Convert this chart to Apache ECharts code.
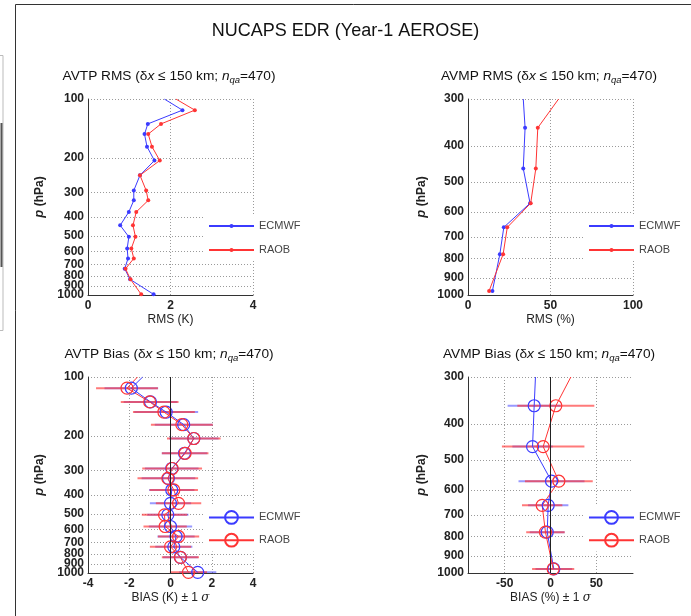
<!DOCTYPE html>
<html><head><meta charset="utf-8">
<script src="https://cdn.jsdelivr.net/npm/echarts@6/dist/echarts.min.js"></script>
<style>html,body{margin:0;padding:0;background:#fff}#c{width:691px;height:616px}</style>
</head><body><div id="c"></div>
<script>
// ---------- DATA ----------
// Temperature levels (hPa)
const pT = [114,134,151,175,206,245,293,329,377,441,505,579,651,735,832,992];
const pTtop = 100;
// AVTP RMS (K)
const rmsT_ecmwf_top = 1.85;
const rmsT_ecmwf = [2.29,1.45,1.37,1.43,1.61,1.26,1.11,1.11,0.99,0.78,0.99,0.95,0.97,0.89,1.02,1.59];
const rmsT_raob_top = 2.13;
const rmsT_raob  = [2.59,1.77,1.46,1.55,1.74,1.26,1.41,1.46,1.17,1.09,1.15,1.05,1.11,0.91,1.03,1.29];
// AVTP Bias (K) and 1-sigma
const biasT_ecmwf_top = -1.35;
const biasT_ecmwf = [-1.90,-0.97,-0.21,0.64,1.13,0.68,0.06,-0.10,0.06,0.00,-0.13,0.00,0.27,0.16,0.48,1.32];
const sigT_ecmwf  = [1.30,1.30,1.55,1.40,1.20,1.10,1.30,1.30,1.10,1.00,1.00,1.05,0.90,0.90,0.85,0.90];
const biasT_raob_top = -1.6;
const biasT_raob  = [-2.11,-1.01,-0.32,0.55,1.13,0.71,0.08,-0.13,0.16,0.39,-0.29,-0.26,0.39,0.00,0.48,0.87];
const sigT_raob   = [1.50,1.40,1.50,1.50,1.30,1.13,1.45,1.47,1.17,1.10,1.10,1.05,1.00,1.00,0.90,0.90];
// Water vapour levels (hPa)
const pQ = [358,460,569,660,778,975];
const pQtop = 300;
// AVMP RMS (%)
const rmsQ_ecmwf_top = 33.5;
const rmsQ_ecmwf = [34.6,33.5,37.6,21.7,19.3,14.8];
const rmsQ_raob_top = 54.9;
const rmsQ_raob  = [42.3,41.1,38.0,23.8,21.3,12.8];
// AVMP Bias (%) and 1-sigma
const biasQ_ecmwf_top = -16.4;
const biasQ_ecmwf = [-17.8,-19.6,1.1,-2.5,-3.6,3.6];
const sigQ_ecmwf  = [29,22,36,22,19,20];
const biasQ_raob_top = 22.2;
const biasQ_raob  = [5.8,-8.0,9.1,-9.1,-5.5,2.9];
const sigQ_raob   = [42,45,37,22,21,23];
// Tick labels
const ticksT = [100,200,300,400,500,600,700,800,900,1000];
const ticksT_extra = [900];   // label drawn on a companion axis (crowded)
const ticksQ = [300,400,500,600,700,800,900,1000];
const xTicksQbias = [-50,0,50];

// ---------- BUILD ----------
const FONT = "'Liberation Sans', Arial, Helvetica, sans-serif";
const BLUE = '#3b3bff', RED = '#ff3434';
const lg = v => Math.log10(v);

const grids = [
  {left:88, top:99, width:165, height:196},
  {left:468, top:99, width:165, height:196},
  {left:88, top:377, width:165, height:196},
  {left:468, top:377, width:165, height:196}
];
const gridLine = {show:true, lineStyle:{color:'#9a9a9a', type:[1,2], width:1}};
const axisLine = {show:true, onZero:false, lineStyle:{color:'#333', width:1}};
const tickLab = {color:'#222', fontFamily:FONT, fontWeight:'bold', fontSize:12, showMinLabel:true, showMaxLabel:true, hideOverlap:false};

function xAx(i, min, max, interval, name, custom) {
  const a = {type:'value', gridIndex:i, min, max, position:'bottom',
    axisLine, axisTick:{show:false}, splitLine:gridLine,
    axisLabel:Object.assign({margin:5}, tickLab),
    name, nameLocation:'middle', nameGap:19,
    nameTextStyle:{color:'#222', fontFamily:FONT, fontSize:12,
      rich:{t:{color:'#222', fontFamily:FONT, fontSize:12}, s:{color:'#222', fontFamily:'DejaVu Serif', fontStyle:'italic', fontSize:12}}}};
  if (custom) {
    a.axisTick = {show:false, customValues:custom};
    a.axisLabel.customValues = custom;
  } else a.interval = interval;
  return a;
}
const fmtP = v => String(Math.round(Math.pow(10, v)));
function yAx(i, pmin, ticks, gap, skip) {
  const cv = ticks.map(lg);
  const lv = ticks.filter(t => !(skip || []).includes(t)).map(lg);
  return {type:'value', gridIndex:i, min:lg(pmin), max:3, inverse:true, position:'left', offset:0,
    axisLine, axisTick:{show:false, customValues:cv}, splitLine:gridLine,
    axisLabel:Object.assign({margin:4, customValues:lv, formatter:fmtP}, tickLab),
    name:'{i|p} {b|(hPa)}', nameLocation:'middle', nameRotate:90, nameGap:gap,
    nameTextStyle:{rich:{i:{fontFamily:FONT, fontStyle:'italic', fontWeight:'bold', fontSize:13, color:'#222'},
                         b:{fontFamily:FONT, fontWeight:'bold', fontSize:12, color:'#222'}}}};
}
function yAxExtra(i, pmin, ticks) {
  const cv = ticks.map(lg);
  return {type:'value', gridIndex:i, min:lg(pmin), max:3, inverse:true, position:'left', offset:0,
    axisLine:{show:false}, axisTick:{show:false, customValues:cv}, splitLine:{show:false},
    axisLabel:Object.assign({margin:4, customValues:cv, formatter:fmtP}, tickLab)};
}

const xAxis = [
  xAx(0, 0, 4, 2, 'RMS (K)'),
  xAx(1, 0, 100, 50, 'RMS (%)'),
  xAx(2, -4, 4, 2, '{t|BIAS (K) ± 1 }{s|σ}'),
  xAx(3, -90, 90, null, '{t|BIAS (%) ± 1 }{s|σ}', xTicksQbias)
];
const yAxis = [yAx(0,100,ticksT,42,ticksT_extra), yAx(1,300,ticksQ,40), yAx(2,100,ticksT,42,ticksT_extra), yAx(3,300,ticksQ,40),
  yAxExtra(0,100,ticksT_extra), yAxExtra(2,100,ticksT_extra)];

function rmsSeries(i, name, color, top, ptop, vals, ps) {
  const data = [{value:[top, lg(ptop)], symbol:'none'}].concat(vals.map((v,k) => [v, lg(ps[k])]));
  return {type:'line', name, xAxisIndex:i, yAxisIndex:i, data, symbol:'circle', symbolSize:4,
    lineStyle:{color, width:1}, itemStyle:{color}, clip:true, silent:true};
}
function biasSeries(i, name, color, top, ptop, vals, ps) {
  const data = [{value:[top, lg(ptop)], symbol:'none'}].concat(vals.map((v,k) => [v, lg(ps[k])]));
  return {type:'line', name, xAxisIndex:i, yAxisIndex:i, data, symbol:'circle', symbolSize:12,
    lineStyle:{color, width:1}, itemStyle:{color:'rgba(255,255,255,0)', borderColor:color, borderWidth:1.2}, clip:true, silent:true};
}
function errSeries(i, color, vals, sig, ps) {
  return {type:'custom', xAxisIndex:i, yAxisIndex:i, clip:true, silent:true,
    data: vals.map((v,k) => [v, lg(ps[k]), sig[k]]), encode:{x:0, y:1},
    renderItem:(params, api) => {
      const x = api.value(0), y = api.value(1), s = api.value(2);
      const a = api.coord([x - s, y]), b = api.coord([x + s, y]);
      return {type:'line', shape:{x1:a[0], y1:a[1], x2:b[0], y2:b[1]}, style:{stroke:color, lineWidth:2}};
    }};
}
function zeroLine(i) {
  return {type:'line', xAxisIndex:i, yAxisIndex:i, data:[], silent:true,
    markLine:{silent:true, symbol:'none', label:{show:false}, animation:false,
      lineStyle:{color:'#222', width:1, type:'solid'}, data:[{xAxis:0}]}};
}

const series = [
  rmsSeries(0, 'ECMWF#0', BLUE, rmsT_ecmwf_top, pTtop, rmsT_ecmwf, pT),
  rmsSeries(0, 'RAOB#0', RED, rmsT_raob_top, pTtop, rmsT_raob, pT),
  rmsSeries(1, 'ECMWF#1', BLUE, rmsQ_ecmwf_top, pQtop, rmsQ_ecmwf, pQ),
  rmsSeries(1, 'RAOB#1', RED, rmsQ_raob_top, pQtop, rmsQ_raob, pQ),
  errSeries(2, 'rgba(70,70,255,0.55)', biasT_ecmwf, sigT_ecmwf, pT),
  biasSeries(2, 'ECMWF#2', BLUE, biasT_ecmwf_top, pTtop, biasT_ecmwf, pT),
  errSeries(2, 'rgba(255,50,50,0.65)', biasT_raob, sigT_raob, pT),
  biasSeries(2, 'RAOB#2', RED, biasT_raob_top, pTtop, biasT_raob, pT),
  zeroLine(2),
  errSeries(3, 'rgba(70,70,255,0.55)', biasQ_ecmwf, sigQ_ecmwf, pQ),
  biasSeries(3, 'ECMWF#3', BLUE, biasQ_ecmwf_top, pQtop, biasQ_ecmwf, pQ),
  errSeries(3, 'rgba(255,50,50,0.65)', biasQ_raob, sigQ_raob, pQ),
  biasSeries(3, 'RAOB#3', RED, biasQ_raob_top, pQtop, biasQ_raob, pQ),
  zeroLine(3)
];

function legend(i, left, top, ih, gap) {
  return {left, top, orient:'vertical', data:['ECMWF#'+i, 'RAOB#'+i], formatter:n => n.split('#')[0],
    itemWidth:45, itemHeight:ih, itemGap:gap, padding:[4,5,4,5], backgroundColor:'#fff',
    selectedMode:false, textStyle:{fontFamily:FONT, fontSize:11, color:'#444', lineHeight:14}};
}
const legends = [legend(0,203,215,5,10), legend(1,583,215,5,10), legend(2,203,506,16,8), legend(3,583,506,16,8)];

const titleRich = {
  t:{fontFamily:FONT, fontSize:13.7, fontWeight:'normal', color:'#111', lineHeight:18, verticalAlign:'middle'},
  i:{fontFamily:FONT, fontSize:13.7, fontWeight:'normal', fontStyle:'italic', color:'#111', lineHeight:18, verticalAlign:'middle'},
  s:{fontFamily:FONT, fontSize:9.5, fontWeight:'normal', fontStyle:'italic', color:'#111', lineHeight:9, verticalAlign:'bottom'}
};
function ptitle(txt, cx, top) {
  return {text:'{t|' + txt + ' (δ}{i|x}{t| ≤ 150 km; }{i|n}{s|qa}{t|=470)}', left:cx, top, textAlign:'center', padding:0,
    textStyle:{fontWeight:'normal', rich:titleRich}};
}
const titles = [
  {text:'NUCAPS EDR (Year-1 AEROSE)', left:'center', top:20, padding:0,
   textStyle:{fontFamily:FONT, fontSize:18, fontWeight:'normal', color:'#111', lineHeight:22}},
  ptitle('AVTP RMS', 169, 67), ptitle('AVMP RMS', 549, 67),
  ptitle('AVTP Bias', 169, 345), ptitle('AVMP Bias', 549, 345)
];

const chart = echarts.init(document.getElementById('c'), null, {renderer:'canvas'});
chart.setOption({
  backgroundColor:'#fff', animation:false,
  title:titles, grid:grids, xAxis, yAxis, series, legend:legends,
  graphic:[
    {type:'line', shape:{x1:15.5, y1:4.5, x2:691, y2:4.5}, style:{stroke:'#333', lineWidth:1}},
    {type:'line', shape:{x1:15.5, y1:4.5, x2:15.5, y2:616}, style:{stroke:'#333', lineWidth:1}},
    {type:'rect', shape:{x:-1, y:55.5, width:4, height:275}, style:{fill:'none', stroke:'#bbb', lineWidth:1}},
    {type:'line', shape:{x1:1.5, y1:123, x2:1.5, y2:267}, style:{stroke:'#555', lineWidth:2}}
  ]
});
</script></body></html>
